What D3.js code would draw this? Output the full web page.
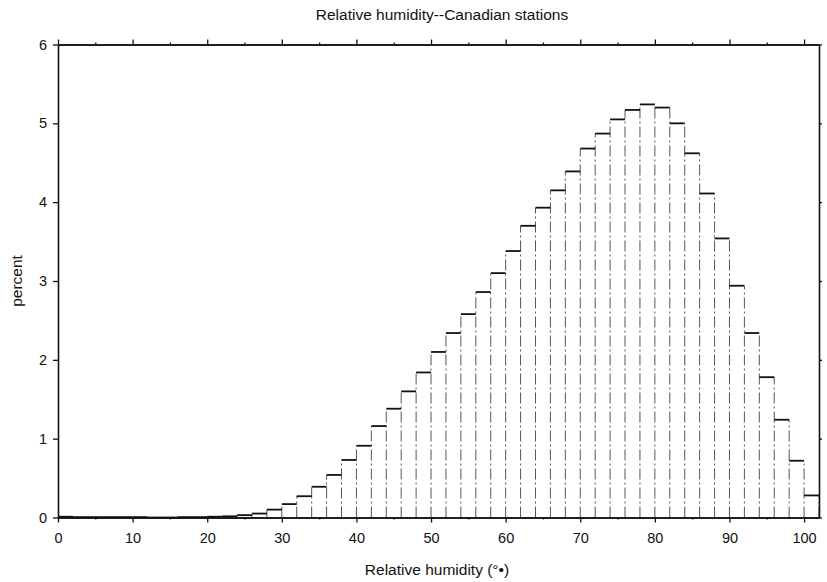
<!DOCTYPE html>
<html>
<head>
<meta charset="utf-8">
<script src="https://cdn.jsdelivr.net/npm/d3@7"></script>
<style>
  html, body { margin: 0; padding: 0; background: #fff; }
  svg text { font-family: "Liberation Sans", Arial, sans-serif; fill: #111; }
</style>
</head>
<body>
<svg id="chart" width="827" height="582"></svg>
<script>
// ---- data ----
const binStarts = d3.range(0, 102, 2); // 0,2,...,100 ; bin width 2
const binWidth = 2;
const percentValues = [
  0.01, 0.005, 0.005, 0.005, 0.005, 0.005, 0.0, 0.0, 0.005, 0.005,
  0.01, 0.015, 0.03, 0.05, 0.10, 0.17, 0.27, 0.39, 0.54, 0.73,
  0.91, 1.16, 1.38, 1.60, 1.84, 2.10, 2.34, 2.58, 2.86, 3.10,
  3.38, 3.70, 3.93, 4.15, 4.39, 4.68, 4.87, 5.05, 5.17, 5.24,
  5.20, 5.00, 4.62, 4.11, 3.54, 2.94, 2.34, 1.78, 1.24, 0.72,
  0.28
];
const xTickValues = [0, 10, 20, 30, 40, 50, 60, 70, 80, 90, 100];
const xMinorTicks = [5, 15, 25, 35, 45, 55, 65, 75, 85, 95];
const yTickValues = [0, 1, 2, 3, 4, 5, 6];
const titleText = "Relative humidity--Canadian stations";
const xLabelText = "Relative humidity (°•)";
const yLabelText = "percent";

(function () {
// ---- layout ----
const svg = d3.select("#chart");
const mLeft = 58, mRight = 819, mTop = 44.5, mBottom = 517.5;
const x = d3.scaleLinear().domain([0, 102]).range([mLeft, mRight]);
const y = d3.scaleLinear().domain([0, 6]).range([mBottom, mTop]);

const bins = binStarts.map((s, i) => ({ x0: s, x1: s + binWidth, v: percentValues[i] }));

// vertical edges (shared between adjacent bins)
const edges = [];
for (let i = 0; i <= bins.length; i++) {
  const hl = i > 0 ? bins[i - 1].v : 0;
  const hr = i < bins.length ? bins[i].v : 0;
  const xv = i < bins.length ? bins[i].x0 : bins[i - 1].x1;
  edges.push({ xv, h: Math.max(hl, hr) });
}

const g = svg.append("g");

g.selectAll("line.edge")
  .data(edges.filter(d => d.h > 0.02))
  .join("line")
  .attr("class", "edge")
  .attr("x1", d => x(d.xv)).attr("x2", d => x(d.xv))
  .attr("y1", y(0)).attr("y2", d => y(d.h))
  .attr("stroke", "#555")
  .attr("stroke-width", 1)
  .attr("stroke-dasharray", "11,3,2,3");

g.selectAll("line.bartop")
  .data(bins)
  .join("line")
  .attr("class", "bartop")
  .attr("x1", d => x(d.x0)).attr("x2", d => x(d.x1))
  .attr("y1", d => y(d.v)).attr("y2", d => y(d.v))
  .attr("stroke", "#111")
  .attr("stroke-width", 1.8);

// ---- axes / frame ----
const axisStyle = sel => {
  sel.select(".domain").attr("stroke", "#111").attr("stroke-width", 1.6);
  sel.selectAll(".tick line").attr("stroke", "#111").attr("stroke-width", 1.3);
  sel.selectAll(".tick text")
    .attr("font-size", 14.5)
    .attr("font-family", "'Liberation Sans', Arial, sans-serif")
    .attr("fill", "#111");
};

svg.append("g")
  .attr("transform", `translate(0,${mBottom})`)
  .call(d3.axisBottom(x).tickValues(xTickValues).tickSizeInner(5).tickSizeOuter(0).tickPadding(10).tickFormat(d3.format("d")))
  .call(axisStyle);

svg.append("g")
  .attr("transform", `translate(0,${mBottom})`)
  .call(d3.axisBottom(x).tickValues(xMinorTicks).tickSizeInner(2).tickSizeOuter(0).tickFormat(""))
  .call(axisStyle);

svg.append("g")
  .attr("transform", `translate(0,${mTop})`)
  .call(d3.axisTop(x).tickValues(xTickValues).tickSizeInner(5).tickSizeOuter(0).tickFormat(""))
  .call(axisStyle);

svg.append("g")
  .attr("transform", `translate(0,${mTop})`)
  .call(d3.axisTop(x).tickValues(xMinorTicks).tickSizeInner(2).tickSizeOuter(0).tickFormat(""))
  .call(axisStyle);

svg.append("g")
  .attr("transform", `translate(${mLeft},0)`)
  .call(d3.axisLeft(y).tickValues(yTickValues).tickSizeInner(5).tickSizeOuter(0).tickPadding(6).tickFormat(d3.format("d")))
  .call(axisStyle);

svg.append("g")
  .attr("transform", `translate(${mRight},0)`)
  .call(d3.axisRight(y).tickValues(yTickValues).tickSizeInner(3).tickSizeOuter(0).tickFormat(""))
  .call(axisStyle);

// ---- titles ----
svg.append("text")
  .attr("x", 442).attr("y", 20)
  .attr("text-anchor", "middle")
  .attr("font-size", 15.5)
  .text(titleText);

svg.append("text")
  .attr("x", 437).attr("y", 575)
  .attr("text-anchor", "middle")
  .attr("font-size", 15.5)
  .text(xLabelText);

svg.append("text")
  .attr("transform", `translate(22,281) rotate(-90)`)
  .attr("text-anchor", "middle")
  .attr("font-size", 15.5)
  .text(yLabelText);
})();
</script>
</body>
</html>
